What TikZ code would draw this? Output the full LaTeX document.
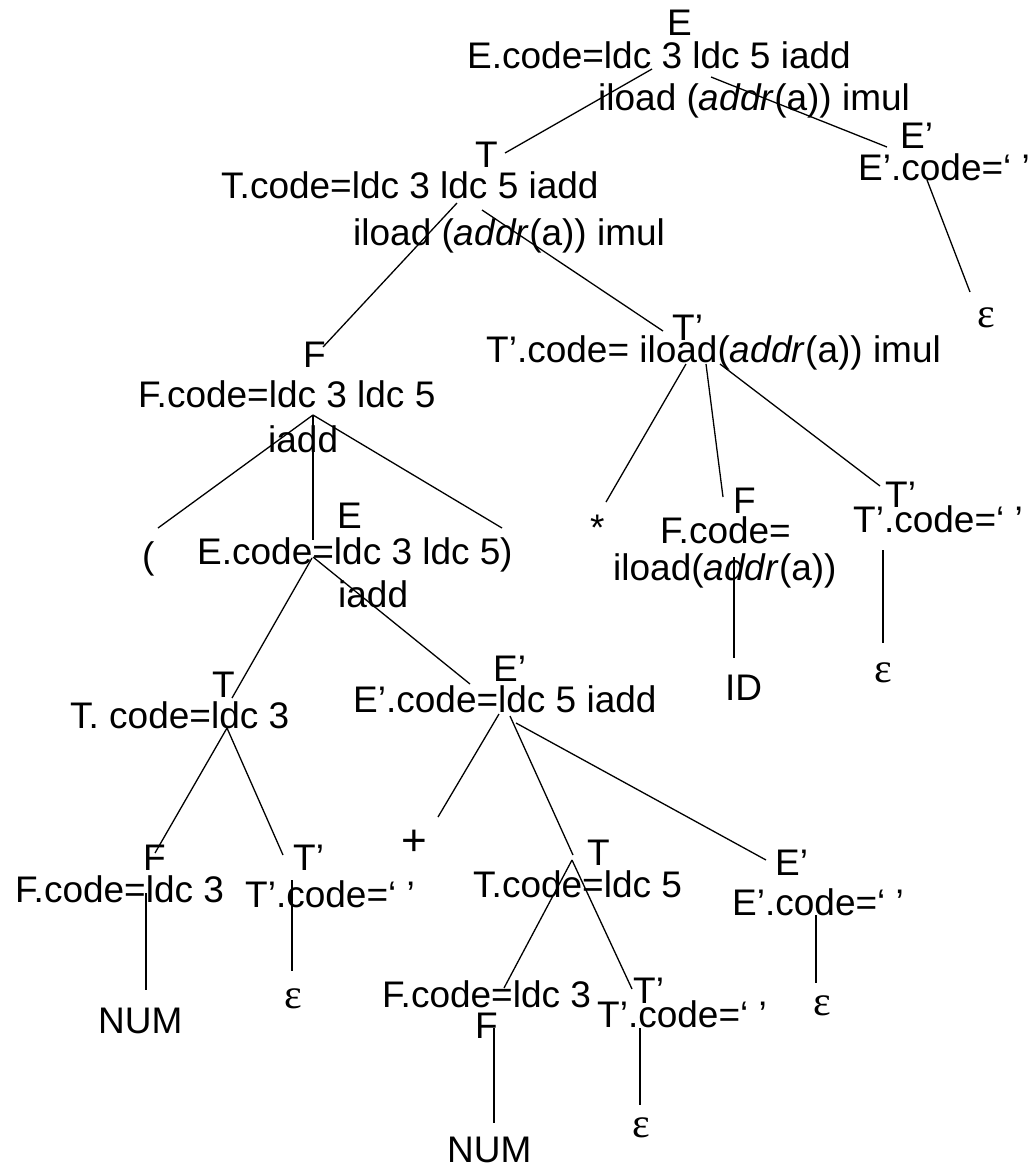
\documentclass[tikz,border=0pt]{standalone}
\usepackage{fontspec}
\setmainfont{Liberation Sans}
\newfontfamily\epsfont{Liberation Serif}
\begin{document}
\begin{tikzpicture}[x=1pt,y=-1pt,
  txt/.style={anchor=base west, inner sep=0pt, font=\fontsize{37}{44}\selectfont},
  eps/.style={anchor=base, inner sep=0pt, font=\epsfont\fontsize{42}{44}\selectfont},
  edge/.style={line width=1.3pt, black}]
\useasboundingbox (0,0) rectangle (1029,1168);

% ---- root E and its attribute
\node[txt] (E)   at (667,35)  {E};
\node[txt] (Ec1) at (467,68)  {E.code=ldc 3 ldc 5 iadd};
\node[txt] (Ec2) at (598,110) {iload (\textit{addr}(a)) imul};

% ---- T under the root
\node[txt] (T)   at (475,167) {T};
\node[txt] (Tc1) at (221,198) {T.code=ldc 3 ldc 5 iadd};
\node[txt] (Tc2) at (353,245) {iload (\textit{addr}(a)) imul};

% ---- E' under the root
\node[txt] (Ep)  at (900,148) {E’};
\node[txt] (Epc) at (858,180) {E’.code=‘ ’};
\node[eps] (eps1) at (986,327) {ε};

% ---- F under T
\node[txt] (F)   at (303,367) {F};
\node[txt] (Fc1) at (138,407) {F.code=ldc 3 ldc 5};
\node[txt] (Fc2) at (268,452) {iadd};

% ---- T' under T
\node[txt] (Tp)  at (672,340) {T’};
\node[txt] (Tpc) at (486,362) {T’.code= iload(\textit{addr}(a)) imul};

% ---- ( E ) under F
\node[txt] (lp)   at (142,568) {(};
\node[txt] (E2)   at (337,528) {E};
\node[txt] (E2c1) at (197,564) {E.code=ldc 3 ldc 5};
\node[txt] (rp)   at (500,564) {)};
\node[txt] (E2c2) at (338,607) {iadd};

% ---- * F T' under T'
\node[txt] (star) at (590,540) {*};
\node[txt] (F2)   at (733,513) {F};
\node[txt] (F2c1) at (660,543) {F.code=};
\node[txt] (F2c2) at (613,580) {iload(\textit{addr}(a))};
\node[txt] (id)   at (725,700) {ID};
\node[txt] (Tp2)  at (885,507) {T’};
\node[txt] (Tp2c) at (853,532) {T’.code=‘ ’};
\node[eps] (eps2) at (883,682) {ε};

% ---- T and E' under the inner E
\node[txt] (T3)   at (212,697) {T};
\node[txt] (T3c)  at (70,728)  {T. code=ldc 3};
\node[txt] (Ep3)  at (493,681) {E’};
\node[txt] (Ep3c) at (353,712) {E’.code=ldc 5 iadd};

% ---- F T' under the inner T
\node[txt] (F4)   at (143,870) {F};
\node[txt] (F4c)  at (15,902)  {F.code=ldc 3};
\node[txt] (Tp4)  at (293,870) {T’};
\node[txt] (Tp4c) at (245,907) {T’.code=‘ ’};
\node[txt] (num1) at (98,1033) {NUM};
\node[eps] (eps3) at (293,1008) {ε};

% ---- + T E' under the inner E'
\node[txt, font=\fontsize{44}{48}\selectfont] (plus) at (401,855) {+};
\node[txt] (T5)   at (587,865) {T};
\node[txt] (T5c)  at (473,897) {T.code=ldc 5};
\node[txt] (Ep5)  at (775,875) {E’};
\node[txt] (Ep5c) at (732,915) {E’.code=‘ ’};
\node[eps] (eps4) at (822,1015) {ε};

% ---- F T' under the lower T
\node[txt] (F6c)  at (382,1007) {F.code=ldc 3};
\node[txt] (F6)   at (475,1038) {F};
\node[txt] (Tp6)  at (633,1003) {T’};
\node[txt] (Tp6c) at (597,1027) {T’.code=‘ ’};
\node[txt] (num2) at (447,1162) {NUM};
\node[eps] (eps5) at (641,1137) {ε};

% ---- edge end points
\coordinate (E-o1) at (652,69);   \coordinate (T-i)   at (505,153);
\coordinate (E-o2) at (711,77);   \coordinate (Ep-i)  at (887,147);
\coordinate (Ep-o) at (927,180);  \coordinate (eps1-i) at (970,292);
\coordinate (T-o1) at (457,203);  \coordinate (F-i)   at (323,347);
\coordinate (T-o2) at (482,210);  \coordinate (Tp-i)  at (663,331);
\coordinate (F-o)  at (313,415);
\coordinate (lp-i) at (158,528);  \coordinate (E2-i)  at (313,540);
\coordinate (rp-i) at (502,528);
\coordinate (Tp-o1) at (686,364); \coordinate (star-i) at (606,502);
\coordinate (Tp-o2) at (706,364); \coordinate (F2-i)  at (723,497);
\coordinate (Tp-o3) at (720,364); \coordinate (Tp2-i) at (880,486);
\coordinate (F2-o)  at (734,557); \coordinate (id-i)  at (734,658);
\coordinate (Tp2-o) at (883,550); \coordinate (eps2-i) at (883,643);
\coordinate (E2-o1) at (312,558); \coordinate (T3-i)  at (232,698);
\coordinate (E2-o2) at (313,557); \coordinate (Ep3-i) at (470,684);
\coordinate (T3-o)  at (227,728);
\coordinate (F4-i)  at (155,853); \coordinate (Tp4-i) at (283,855);
\coordinate (F4-o)  at (146,893); \coordinate (num1-i) at (146,990);
\coordinate (Tp4-o) at (292,880); \coordinate (eps3-i) at (292,971);
\coordinate (Ep3-o1) at (499,714); \coordinate (plus-i) at (438,817);
\coordinate (Ep3-o2) at (510,716); \coordinate (T5-i)  at (573,855);
\coordinate (Ep3-o3) at (516,723); \coordinate (Ep5-i) at (766,860);
\coordinate (Ep5-o)  at (816,915); \coordinate (eps4-i) at (816,983);
\coordinate (T5-o)   at (572,860);
\coordinate (F6-i)   at (504,988); \coordinate (Tp6-i) at (632,989);
\coordinate (F6-o)   at (494,1028); \coordinate (num2-i) at (494,1123);
\coordinate (Tp6-o)  at (640,1028); \coordinate (eps5-i) at (640,1105);

% ---- tree edges
\draw[edge] (E-o1) -- (T-i);
\draw[edge] (E-o2) -- (Ep-i);
\draw[edge] (Ep-o) -- (eps1-i);
\draw[edge] (T-o1) -- (F-i);
\draw[edge] (T-o2) -- (Tp-i);
\draw[edge] (F-o) -- (lp-i);
\draw[edge] (F-o) -- (E2-i);
\draw[edge] (F-o) -- (rp-i);
\draw[edge] (Tp-o1) -- (star-i);
\draw[edge] (Tp-o2) -- (F2-i);
\draw[edge] (Tp-o3) -- (Tp2-i);
\draw[edge] (F2-o) -- (id-i);
\draw[edge] (Tp2-o) -- (eps2-i);
\draw[edge] (E2-o1) -- (T3-i);
\draw[edge] (E2-o2) -- (Ep3-i);
\draw[edge] (T3-o) -- (F4-i);
\draw[edge] (T3-o) -- (Tp4-i);
\draw[edge] (F4-o) -- (num1-i);
\draw[edge] (Tp4-o) -- (eps3-i);
\draw[edge] (Ep3-o1) -- (plus-i);
\draw[edge] (Ep3-o2) -- (T5-i);
\draw[edge] (Ep3-o3) -- (Ep5-i);
\draw[edge] (Ep5-o) -- (eps4-i);
\draw[edge] (T5-o) -- (F6-i);
\draw[edge] (T5-o) -- (Tp6-i);
\draw[edge] (F6-o) -- (num2-i);
\draw[edge] (Tp6-o) -- (eps5-i);
\end{tikzpicture}
\end{document}
